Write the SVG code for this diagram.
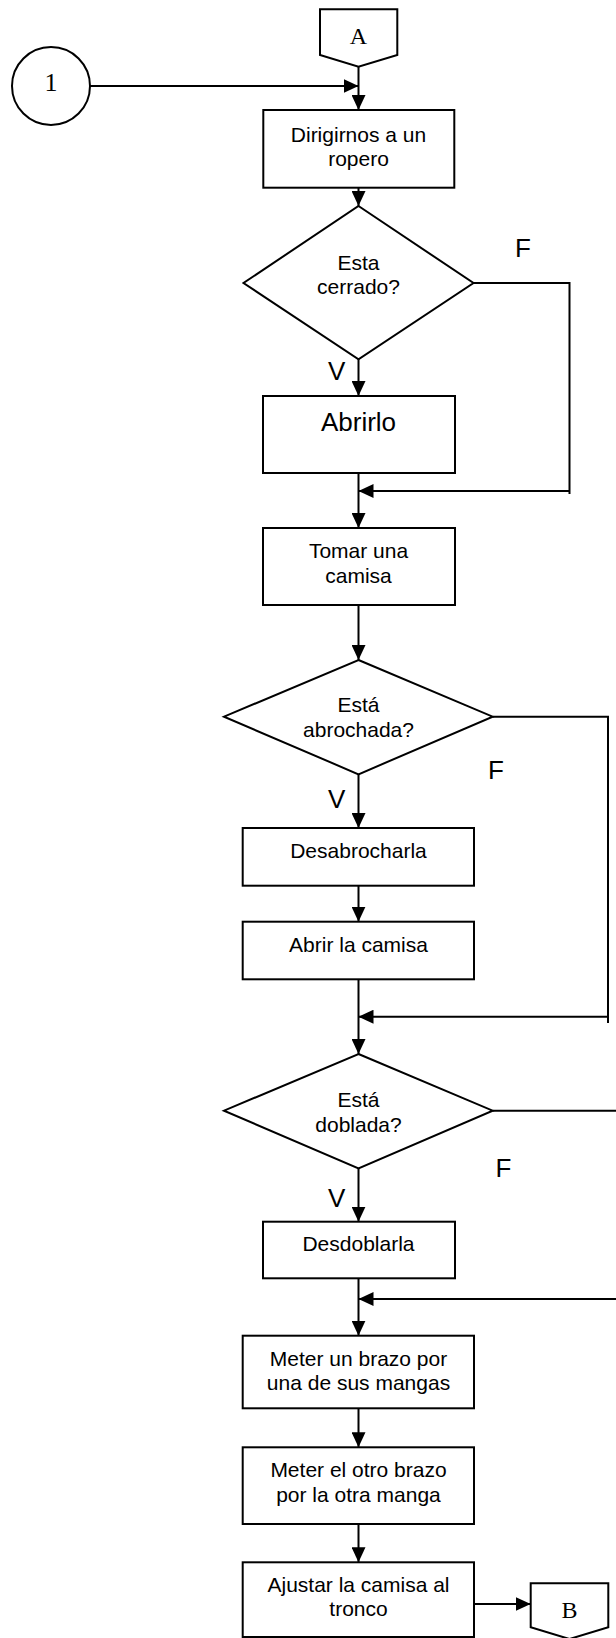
<svg xmlns="http://www.w3.org/2000/svg" width="616" height="1638" viewBox="0 0 616 1638">
<defs>
<marker id="ah" markerWidth="15" markerHeight="14" refX="15" refY="7" orient="auto" markerUnits="userSpaceOnUse">
<path d="M0,0 L15,7 L0,14 Z" fill="#000"/>
</marker>
<style>
.s{fill:#fff;stroke:#000;stroke-width:2}
.t{font-family:"Liberation Sans",Arial,sans-serif;font-size:21px;text-anchor:middle;fill:#000}
.big{font-family:"Liberation Sans",Arial,sans-serif;font-size:26px;fill:#000}
.serif{font-family:"Liberation Serif","Times New Roman",serif;font-size:24px;text-anchor:middle;fill:#000}
.c{fill:none;stroke:#000;stroke-width:2}
.a{fill:none;stroke:#000;stroke-width:2;marker-end:url(#ah)}
</style>
</defs>
<rect width="616" height="1638" fill="#fff"/>
<g id="connectors">
<line class="a" x1="90" y1="86" x2="358.5" y2="86"/>
<line class="a" x1="358.5" y1="67" x2="358.5" y2="110"/>
<line class="a" x1="358.5" y1="188" x2="358.5" y2="206"/>
<line class="a" x1="358.5" y1="359" x2="358.5" y2="396"/>
<polyline class="c" points="473.5,283 569.5,283 569.5,494"/>
<line class="a" x1="569.5" y1="491" x2="358.5" y2="491"/>
<line class="a" x1="358.5" y1="473" x2="358.5" y2="528"/>
<line class="a" x1="358.5" y1="605" x2="358.5" y2="660"/>
<line class="a" x1="358.5" y1="774" x2="358.5" y2="828"/>
<line class="a" x1="358.5" y1="885.5" x2="358.5" y2="921.7"/>
<line class="a" x1="358.5" y1="979" x2="358.5" y2="1054"/>
<polyline class="c" points="492.7,716.7 608,716.7 608,1023"/>
<line class="a" x1="608" y1="1016.7" x2="358.5" y2="1016.7"/>
<line class="a" x1="358.5" y1="1168" x2="358.5" y2="1221.7"/>
<line class="c" x1="492.7" y1="1110.7" x2="620" y2="1110.7"/>
<line class="a" x1="620" y1="1299" x2="358.5" y2="1299"/>
<line class="a" x1="358.5" y1="1278.3" x2="358.5" y2="1335.7"/>
<line class="a" x1="358.5" y1="1408.3" x2="358.5" y2="1447.3"/>
<line class="a" x1="358.5" y1="1524" x2="358.5" y2="1562.3"/>
<line class="a" x1="474" y1="1604" x2="530.7" y2="1604"/>
</g>
<g id="n1">
<ellipse class="s" cx="51" cy="86" rx="39" ry="39"/>
<text class="serif" x="51" y="91" style="font-size:26px">1</text>
</g>
<g id="nA">
<polygon class="s" points="320,9.3 397.3,9.3 397.3,55 358.5,66.7 320,55"/>
<text class="serif" x="358.5" y="44.3">A</text>
</g>
<g id="n_dirigir">
<rect class="s" x="263.3" y="110" width="191" height="77.7"/>
<text class="t" x="358.5" y="141.7">Dirigirnos a un</text>
<text class="t" x="358.5" y="165.5">ropero</text>
</g>
<g id="d_cerrado">
<polygon class="s" points="358.5,206 473.5,283 358.5,359.3 243.5,283"/>
<text class="t" x="358.5" y="270">Esta</text>
<text class="t" x="358.5" y="294.3">cerrado?</text>
<text class="big" x="515" y="257.3">F</text>
<text class="big" x="328" y="380">V</text>
</g>
<g id="n_abrirlo">
<rect class="s" x="263" y="396" width="192" height="77"/>
<text class="big" x="358.5" y="430.7" text-anchor="middle">Abrirlo</text>
</g>
<g id="n_tomar">
<rect class="s" x="263" y="528" width="192" height="77"/>
<text class="t" x="358.5" y="558.3">Tomar una</text>
<text class="t" x="358.5" y="582.7">camisa</text>
</g>
<g id="d_abrochada">
<polygon class="s" points="358.5,660 492.7,716.7 358.5,774.3 224,716.7"/>
<text class="t" x="358.5" y="712.3">Está</text>
<text class="t" x="358.5" y="737.3">abrochada?</text>
<text class="big" x="488" y="779">F</text>
<text class="big" x="328" y="808.3">V</text>
</g>
<g id="n_desabrochar">
<rect class="s" x="242.7" y="828" width="231.3" height="57.7"/>
<text class="t" x="358.5" y="857.7">Desabrocharla</text>
</g>
<g id="n_abrircamisa">
<rect class="s" x="242.7" y="921.7" width="231.3" height="57.6"/>
<text class="t" x="358.5" y="951.7">Abrir la camisa</text>
</g>
<g id="d_doblada">
<polygon class="s" points="358.5,1054 492.7,1110.7 358.5,1168.3 224,1110.7"/>
<text class="t" x="358.5" y="1106.7">Está</text>
<text class="t" x="358.5" y="1131.7">doblada?</text>
<text class="big" x="495.5" y="1177.3">F</text>
<text class="big" x="328" y="1207.3">V</text>
</g>
<g id="n_desdoblar">
<rect class="s" x="263" y="1221.7" width="192" height="56.6"/>
<text class="t" x="358.5" y="1250.7">Desdoblarla</text>
</g>
<g id="n_meter1">
<rect class="s" x="242.7" y="1335.7" width="231.3" height="72.6"/>
<text class="t" x="358.5" y="1365.5">Meter un brazo por</text>
<text class="t" x="358.5" y="1390">una de sus mangas</text>
</g>
<g id="n_meter2">
<rect class="s" x="242.7" y="1447.3" width="231.3" height="76.7"/>
<text class="t" x="358.5" y="1476.7">Meter el otro brazo</text>
<text class="t" x="358.5" y="1501.7">por la otra manga</text>
</g>
<g id="n_ajustar">
<rect class="s" x="242.7" y="1562.3" width="231.3" height="74.7"/>
<text class="t" x="358.5" y="1591.7">Ajustar la camisa al</text>
<text class="t" x="358.5" y="1616">tronco</text>
</g>
<g id="nB">
<polygon class="s" points="530.7,1583.3 608.3,1583.3 608.3,1627.3 569.5,1639 530.7,1627.3"/>
<text class="serif" x="569.5" y="1618.3">B</text>
</g>
</svg>
